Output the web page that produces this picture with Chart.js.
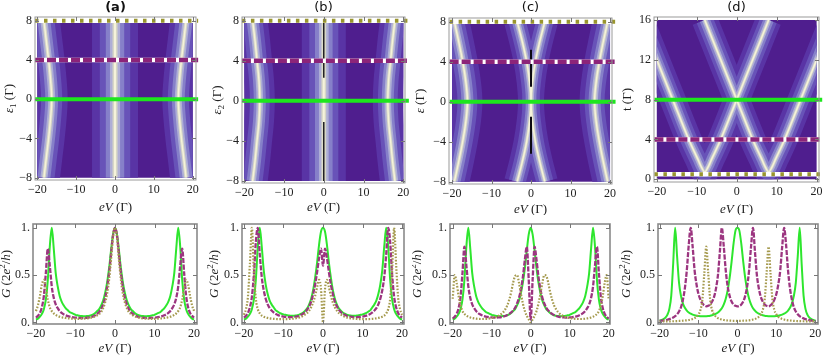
<!DOCTYPE html>
<html>
<head>
<meta charset="utf-8">
<script src="https://cdn.jsdelivr.net/npm/chart.js@4.4.0/dist/chart.umd.min.js"></script>
<style>
html, body { margin: 0; padding: 0; background: #fff; }
#fig { position: relative; width: 823px; height: 357px; overflow: hidden; }
#fig canvas { position: absolute; }
</style>
</head>
<body>
<div id="fig"></div>
<script>
// ---- bias grid shared by the conductance cuts (eV in units of Gamma)
const eV = [-20,-19.5,-19,-18.5,-18,-17.5,-17,-16.5,-16,-15.5,-15,-14.5,-14,-13.5,-13,-12.5,-12,-11.5,-11,-10.5,-10,-9.5,-9,-8.5,-8,-7.5,-7,-6.5,-6,-5.5,-5,-4.5,-4,-3.5,-3,-2.5,-2,-1.5,-1,-0.5,0,0.5,1,1.5,2,2.5,3,3.5,4,4.5,5,5.5,6,6.5,7,7.5,8,8.5,9,9.5,10,10.5,11,11.5,12,12.5,13,13.5,14,14.5,15,15.5,16,16.5,17,17.5,18,18.5,19,19.5,20];

// ---- conductance G (2e^2/h) read off the lower row
// (a) eps1 = 0 / 4 / 8
const aGreen  = [0.03,0.04,0.06,0.09,0.14,0.24,0.45,0.8,1.0,0.78,0.52,0.38,0.28,0.22,0.18,0.15,0.13,0.11,0.1,0.09,0.08,0.075,0.07,0.067,0.065,0.065,0.067,0.07,0.075,0.085,0.1,0.12,0.14,0.18,0.23,0.31,0.42,0.57,0.76,0.93,1.0,0.93,0.76,0.57,0.42,0.31,0.23,0.18,0.14,0.12,0.1,0.085,0.075,0.07,0.067,0.065,0.065,0.067,0.07,0.075,0.08,0.09,0.1,0.11,0.13,0.15,0.18,0.22,0.28,0.38,0.52,0.78,1.0,0.8,0.45,0.24,0.14,0.09,0.06,0.04,0.03];
const aPurple = [0.05,0.07,0.1,0.16,0.28,0.52,0.78,0.6,0.38,0.26,0.19,0.15,0.12,0.1,0.085,0.075,0.067,0.06,0.056,0.052,0.05,0.048,0.047,0.046,0.046,0.047,0.049,0.052,0.057,0.064,0.075,0.09,0.11,0.14,0.19,0.26,0.37,0.52,0.72,0.92,1.0,0.92,0.72,0.52,0.37,0.26,0.19,0.14,0.11,0.09,0.075,0.064,0.057,0.052,0.049,0.047,0.046,0.046,0.047,0.048,0.05,0.052,0.056,0.06,0.067,0.075,0.085,0.1,0.12,0.15,0.19,0.26,0.38,0.6,0.78,0.52,0.28,0.16,0.1,0.07,0.05];
const aOlive  = [0.12,0.18,0.28,0.4,0.45,0.36,0.24,0.16,0.12,0.095,0.08,0.068,0.06,0.054,0.05,0.046,0.043,0.041,0.04,0.039,0.038,0.038,0.038,0.039,0.04,0.041,0.043,0.046,0.05,0.056,0.064,0.075,0.09,0.11,0.15,0.21,0.3,0.45,0.66,0.9,1.0,0.9,0.66,0.45,0.3,0.21,0.15,0.11,0.09,0.075,0.064,0.056,0.05,0.046,0.043,0.041,0.04,0.039,0.038,0.038,0.038,0.039,0.04,0.041,0.043,0.046,0.05,0.054,0.06,0.068,0.08,0.095,0.12,0.16,0.24,0.36,0.45,0.4,0.28,0.18,0.12];
// (b) eps2 = 0 / 4 / 8
const bGreen  = [0.03,0.04,0.06,0.09,0.14,0.24,0.45,0.8,1.0,0.8,0.55,0.4,0.3,0.23,0.19,0.16,0.13,0.115,0.1,0.092,0.085,0.08,0.075,0.072,0.07,0.07,0.072,0.076,0.082,0.092,0.105,0.125,0.15,0.19,0.25,0.34,0.47,0.63,0.82,0.96,1.0,0.96,0.82,0.63,0.47,0.34,0.25,0.19,0.15,0.125,0.105,0.092,0.082,0.076,0.072,0.07,0.07,0.072,0.075,0.08,0.085,0.092,0.1,0.115,0.13,0.16,0.19,0.23,0.3,0.4,0.55,0.8,1.0,0.8,0.45,0.24,0.14,0.09,0.06,0.04,0.03];
const bPurple = [0.05,0.07,0.1,0.16,0.27,0.5,0.85,1.0,0.72,0.48,0.34,0.25,0.19,0.15,0.125,0.105,0.09,0.08,0.072,0.066,0.062,0.059,0.057,0.056,0.056,0.057,0.06,0.064,0.07,0.08,0.093,0.11,0.135,0.17,0.22,0.3,0.4,0.53,0.68,0.78,0.6,0.78,0.68,0.53,0.4,0.3,0.22,0.17,0.135,0.11,0.093,0.08,0.07,0.064,0.06,0.057,0.056,0.056,0.057,0.059,0.062,0.066,0.072,0.08,0.09,0.105,0.125,0.15,0.19,0.25,0.34,0.48,0.72,1.0,0.85,0.5,0.27,0.16,0.1,0.07,0.05];
const bOlive  = [0.08,0.14,0.27,0.62,1.0,0.55,0.25,0.14,0.095,0.072,0.06,0.052,0.047,0.043,0.04,0.038,0.036,0.035,0.034,0.034,0.034,0.034,0.035,0.036,0.038,0.04,0.043,0.047,0.052,0.06,0.07,0.085,0.1,0.125,0.16,0.21,0.28,0.37,0.45,0.35,0.0,0.35,0.45,0.37,0.28,0.21,0.16,0.125,0.1,0.085,0.07,0.06,0.052,0.047,0.043,0.04,0.038,0.036,0.035,0.034,0.034,0.034,0.034,0.035,0.036,0.038,0.04,0.043,0.047,0.052,0.06,0.072,0.095,0.14,0.25,0.55,1.0,0.62,0.27,0.14,0.08];
// (c) eps = 0 / 4 / 8
const cGreen  = [0.03,0.04,0.06,0.09,0.14,0.24,0.45,0.8,1.0,0.78,0.52,0.38,0.28,0.22,0.18,0.15,0.13,0.11,0.1,0.09,0.08,0.075,0.07,0.067,0.065,0.065,0.067,0.07,0.075,0.085,0.1,0.12,0.14,0.18,0.23,0.31,0.42,0.57,0.76,0.93,1.0,0.93,0.76,0.57,0.42,0.31,0.23,0.18,0.14,0.12,0.1,0.085,0.075,0.07,0.067,0.065,0.065,0.067,0.07,0.075,0.08,0.09,0.1,0.11,0.13,0.15,0.18,0.22,0.28,0.38,0.52,0.78,1.0,0.8,0.45,0.24,0.14,0.09,0.06,0.04,0.03];
const cPurple = [0.04,0.06,0.09,0.15,0.27,0.52,0.8,0.6,0.38,0.26,0.19,0.15,0.12,0.1,0.085,0.075,0.067,0.061,0.057,0.054,0.052,0.051,0.051,0.052,0.054,0.057,0.062,0.068,0.077,0.09,0.105,0.125,0.155,0.2,0.26,0.35,0.48,0.66,0.8,0.45,0.03,0.45,0.8,0.66,0.48,0.35,0.26,0.2,0.155,0.125,0.105,0.09,0.077,0.068,0.062,0.057,0.054,0.052,0.051,0.051,0.052,0.054,0.057,0.061,0.067,0.075,0.085,0.1,0.12,0.15,0.19,0.26,0.38,0.6,0.8,0.52,0.27,0.15,0.09,0.06,0.04];
const cOlive  = [0.25,0.5,0.42,0.28,0.18,0.12,0.09,0.072,0.06,0.052,0.046,0.042,0.039,0.037,0.036,0.036,0.036,0.037,0.039,0.042,0.046,0.05,0.056,0.064,0.075,0.09,0.11,0.14,0.18,0.24,0.32,0.42,0.49,0.5,0.42,0.3,0.2,0.12,0.07,0.03,0.0,0.03,0.07,0.12,0.2,0.3,0.42,0.5,0.49,0.42,0.32,0.24,0.18,0.14,0.11,0.09,0.075,0.064,0.056,0.05,0.046,0.042,0.039,0.037,0.036,0.036,0.036,0.037,0.039,0.042,0.046,0.052,0.06,0.072,0.09,0.12,0.18,0.28,0.42,0.5,0.25];
// (d) t = 8 / 4 / 0.5
const dGreen  = [0.02,0.025,0.035,0.05,0.08,0.14,0.28,0.62,1.0,0.7,0.42,0.28,0.2,0.155,0.125,0.105,0.092,0.082,0.075,0.07,0.067,0.065,0.064,0.064,0.065,0.067,0.07,0.075,0.082,0.092,0.105,0.125,0.15,0.19,0.25,0.34,0.47,0.64,0.83,0.97,1.0,0.97,0.83,0.64,0.47,0.34,0.25,0.19,0.15,0.125,0.105,0.092,0.082,0.075,0.07,0.067,0.065,0.064,0.064,0.065,0.067,0.07,0.075,0.082,0.092,0.105,0.125,0.155,0.2,0.28,0.42,0.7,1.0,0.62,0.28,0.14,0.08,0.05,0.035,0.025,0.02];
const dPurple = [0.015,0.018,0.02,0.024,0.028,0.034,0.042,0.052,0.066,0.085,0.115,0.16,0.24,0.36,0.55,0.82,1.0,0.8,0.55,0.4,0.3,0.24,0.2,0.18,0.17,0.175,0.19,0.22,0.27,0.36,0.5,0.75,1.0,0.8,0.55,0.38,0.28,0.22,0.19,0.175,0.17,0.175,0.19,0.22,0.28,0.38,0.55,0.8,1.0,0.75,0.5,0.36,0.27,0.22,0.19,0.175,0.17,0.18,0.2,0.24,0.3,0.4,0.55,0.8,1.0,0.82,0.55,0.36,0.24,0.16,0.115,0.085,0.066,0.052,0.042,0.034,0.028,0.024,0.02,0.018,0.015];
const dOlive  = [0.01,0.01,0.01,0.01,0.011,0.011,0.012,0.012,0.013,0.014,0.015,0.016,0.018,0.02,0.022,0.025,0.03,0.036,0.045,0.06,0.085,0.13,0.24,0.52,0.8,0.52,0.24,0.13,0.085,0.06,0.045,0.036,0.03,0.025,0.022,0.02,0.019,0.018,0.017,0.017,0.017,0.017,0.017,0.018,0.019,0.02,0.022,0.025,0.03,0.036,0.045,0.06,0.085,0.13,0.24,0.52,0.8,0.52,0.24,0.13,0.085,0.06,0.045,0.036,0.03,0.025,0.022,0.02,0.018,0.016,0.015,0.014,0.013,0.012,0.012,0.011,0.011,0.01,0.01,0.01,0.01];

// ---- bright ridges of the density maps (upper row)
const levelRows = [-8, -6, -4, -2, 0, 2, 4, 6, 8];
const aRidgeL = [-18.3, -17.7, -17.1, -16.6, -16.3, -16.6, -17.1, -17.7, -18.3];
const aRidgeC = [0, 0, 0, 0, 0, 0, 0, 0, 0];
const aRidgeR = [18.3, 17.7, 17.1, 16.6, 16.3, 16.6, 17.1, 17.7, 18.3];
const bRidgeL = [-17.9, -17.3, -16.8, -16.3, -16.1, -16.3, -16.8, -17.3, -17.9];
const bRidgeC = [0, 0, 0, 0, 0, 0, 0, 0, 0];
const bRidgeR = [17.9, 17.3, 16.8, 16.3, 16.1, 16.3, 16.8, 17.3, 17.9];
const cRidgeL = [-19.4, -18.3, -17.3, -16.5, -16.1, -16.5, -17.3, -18.3, -19.4];
const cSplitL = [-3.5, -2.2, -1.1, -0.35, 0, -0.35, -1.1, -2.2, -3.5];
const cSplitR = [3.5, 2.2, 1.1, 0.35, 0, 0.35, 1.1, 2.2, 3.5];
const cRidgeR = [19.4, 18.3, 17.3, 16.5, 16.1, 16.5, 17.3, 18.3, 19.4];
const hopRows = [16, 12, 8, 4, 2, 1.2, 0.75, 1.2, 2, 4, 8, 12, 16];
const dVeeL = [-24, -20, -16, -12, -9.7, -8.8, -8, -7.2, -6.3, -4, 0, 4, 8];
const dVeeR = [-8, -4, 0, 4, 6.3, 7.2, 8, 8.8, 9.7, 12, 16, 20, 24];
// zero-conductance seams at eV = 0
const dipX = [0, 0];
const bDipUp = [2.3, 8], bDipDown = [-8, -2.1];
const cDipUp = [1.5, 5.2], cDipDown = [-5.2, -1.5];

// ---- cut levels [green, purple, olive] and map extents
const cutsLevel = [0, 4, 8];
const cutsHop = [8, 4, 0.5];
const cutSpan = [-20.6, 21.4];
const fieldBias = [-20, 20], fieldLevel = [-8, 8], fieldHop = [0, 16];

// ---- ticks
const biasTicks = [-20, -10, 0, 10, 20];
const biasLabels = ['\u221220', '\u221210', '0', '10', '20'];
const levelTicks = [-8, -4, 0, 4, 8];
const levelLabels = ['\u22128', '\u22124', '0', '4', '8'];
const hopTicks = [0, 4, 8, 12, 16];
const hopLabels = ['0', '4', '8', '12', '16'];
const condTicks = [0, 0.5, 1];
const condLabels = ['0.', '0.5', '1.'];

const serif = '"Liberation Serif", "Times New Roman", serif';
const sans = '"DejaVu Sans", sans-serif';
const fieldColor = '#4f1e8e';
const glowBands = [
    { color: '#5934a5', k: 1.0 },
    { color: '#6853b8', k: 0.66 },
    { color: '#8680c9', k: 0.4 },
    { color: '#aeaed6', k: 0.22 },
    { color: '#d6d6c6', k: 0.11 },
    { color: '#f5f3da', k: 0.045 }
];

const fig = document.getElementById('fig');

function pts(xs, ys) {
    return xs.map((x, i) => ({ x: x, y: ys[i] }));
}

function glowLayers(ridges) {
    const out = [];
    glowBands.forEach(band => {
        ridges.forEach(r => {
            out.push({
                data: pts(r.x, r.y), showLine: true, pointRadius: 0, tension: 0.4,
                borderColor: band.color, borderWidth: Math.max(1.4, r.spread * band.k), glow: true
            });
        });
    });
    return out;
}

function dipLayers(dips, w) {
    return dips.map(d => ({
        data: pts(dipX, d), showLine: true, pointRadius: 0,
        borderColor: '#0c0a10', borderWidth: w, glow: true
    }));
}

function cutLayers(levels) {
    const line = (y, color, w, dash) => ({
        data: pts(cutSpan, [y, y]), showLine: true, pointRadius: 0,
        borderColor: color, borderWidth: w, borderDash: dash || [], clip: false
    });
    return [
        line(levels[0], '#1de61d', 4),
        line(levels[1], '#ffffff', 4.5), line(levels[1], '#8c2479', 4.5, [9, 3]),
        line(levels[2], '#ffffff', 4.5), line(levels[2], '#99952e', 4, [3.5, 5.5])
    ];
}

function curveLayers(g, p, o) {
    const base = { showLine: true, pointRadius: 0, cubicInterpolationMode: 'monotone' };
    return [
        Object.assign({}, base, { data: pts(eV, g), borderColor: '#2ee62e', borderWidth: 2 }),
        Object.assign({}, base, { data: pts(eV, p), borderColor: '#9c3580', borderWidth: 2.3, borderDash: [5, 1.5] }),
        Object.assign({}, base, { data: pts(eV, o), borderColor: '#a59a4e', borderWidth: 2.2, borderDash: [1.6, 1.6] })
    ];
}

function drawRich(ctx, segs, x, y, size, vertical) {
    const fontOf = s => (s.it ? 'italic ' : '') + ((s.sub || s.sup) ? Math.round(size * 0.72) : size) + 'px ' + serif;
    let total = 0;
    segs.forEach(s => { ctx.font = fontOf(s); total += ctx.measureText(s.t).width; });
    ctx.save();
    ctx.translate(x, y);
    if (vertical) ctx.rotate(-Math.PI / 2);
    ctx.textBaseline = 'middle';
    ctx.textAlign = 'left';
    ctx.fillStyle = '#222';
    let cx = -total / 2;
    segs.forEach(s => {
        ctx.font = fontOf(s);
        const dy = s.sub ? size * 0.3 : (s.sup ? -size * 0.35 : 0);
        ctx.fillText(s.t, cx, dy);
        cx += ctx.measureText(s.t).width;
    });
    ctx.restore();
}

function deco(cfg) {
    const fieldRect = chart => {
        const sx = chart.scales.x, sy = chart.scales.y;
        const l = sx.getPixelForValue(cfg.field.x[0]), r = sx.getPixelForValue(cfg.field.x[1]);
        const t = sy.getPixelForValue(cfg.field.y[1]), b = sy.getPixelForValue(cfg.field.y[0]);
        return [l, t, r - l, b - t];
    };
    return {
        id: 'deco',
        beforeDatasetsDraw(chart) {
            if (!cfg.field) return;
            const ctx = chart.ctx;
            ctx.save();
            ctx.fillStyle = fieldColor;
            ctx.fillRect(...fieldRect(chart));
            ctx.restore();
        },
        beforeDatasetDraw(chart, args) {
            if (!chart.data.datasets[args.index].glow) return;
            const ctx = chart.ctx;
            ctx.save();
            ctx.beginPath();
            ctx.rect(...fieldRect(chart));
            ctx.clip();
        },
        afterDatasetDraw(chart, args) {
            if (chart.data.datasets[args.index].glow) chart.ctx.restore();
        },
        afterDraw(chart) {
            const ctx = chart.ctx, a = chart.chartArea;
            const sx = chart.scales.x, sy = chart.scales.y;
            ctx.save();
            ctx.strokeStyle = cfg.frameColor;
            ctx.lineWidth = cfg.frameWidth;
            ctx.strokeRect(a.left, a.top, a.right - a.left, a.bottom - a.top);
            ctx.lineWidth = 1;
            ctx.strokeStyle = '#777';
            ctx.beginPath();
            cfg.xTicks.forEach(v => {
                const px = Math.round(sx.getPixelForValue(v)) + 0.5;
                ctx.moveTo(px, a.bottom); ctx.lineTo(px, a.bottom - 4);
                ctx.moveTo(px, a.top); ctx.lineTo(px, a.top + 4);
            });
            cfg.yTicks.forEach(v => {
                const py = Math.round(sy.getPixelForValue(v)) + 0.5;
                ctx.moveTo(a.left, py); ctx.lineTo(a.left + 4, py);
                ctx.moveTo(a.right, py); ctx.lineTo(a.right - 4, py);
            });
            ctx.stroke();
            const cx = (a.left + a.right) / 2;
            if (cfg.label) {
                ctx.font = (cfg.labelBold ? 'bold ' : '') + '13px ' + sans;
                ctx.textAlign = 'center';
                ctx.textBaseline = 'middle';
                ctx.fillStyle = '#111';
                ctx.fillText(cfg.label, cx, 8);
            }
            drawRich(ctx, cfg.xTitle, cx, cfg.xTitleY, 13, false);
            drawRich(ctx, cfg.yTitle, cfg.yTitleX, (a.top + a.bottom) / 2, 13, true);
            ctx.restore();
        }
    };
}

function panel(cfg) {
    const box = cfg.box, fr = cfg.frame;
    const cv = document.createElement('canvas');
    cv.width = box.w;
    cv.height = box.h;
    cv.style.left = box.x + 'px';
    cv.style.top = box.y + 'px';
    fig.appendChild(cv);
    const tickFont = { family: serif, size: 12 };
    const noPad = s => { s.paddingLeft = 0; s.paddingRight = 0; s.paddingTop = 0; s.paddingBottom = 0; };
    new Chart(cv, {
        type: 'scatter',
        data: { datasets: cfg.layers.slice().reverse() },
        options: {
            responsive: false,
            animation: false,
            events: [],
            layout: { padding: { left: 0, top: fr.t - box.y, right: box.x + box.w - fr.r, bottom: 0 } },
            plugins: { legend: { display: false }, tooltip: { enabled: false } },
            scales: {
                x: {
                    type: 'linear', min: cfg.xRange[0], max: cfg.xRange[1],
                    grid: { display: false, drawTicks: false }, border: { display: false },
                    afterBuildTicks: s => { s.ticks = cfg.xTicks.map(v => ({ value: v })); },
                    afterFit: s => { s.height = box.y + box.h - fr.b; noPad(s); },
                    ticks: {
                        autoSkip: false, maxRotation: 0, padding: cfg.xPad, color: '#222', font: tickFont,
                        callback: v => cfg.xLabels[cfg.xTicks.indexOf(v)]
                    }
                },
                y: {
                    type: 'linear', min: cfg.yRange[0], max: cfg.yRange[1],
                    grid: { display: false, drawTicks: false }, border: { display: false },
                    afterBuildTicks: s => { s.ticks = cfg.yTicks.map(v => ({ value: v })); },
                    afterFit: s => { s.width = fr.l - box.x; noPad(s); },
                    ticks: {
                        autoSkip: false, padding: 3, color: '#222', font: tickFont,
                        callback: v => cfg.yLabels[cfg.yTicks.indexOf(v)]
                    }
                }
            }
        },
        plugins: [deco(cfg)]
    });
}

const xTitle = [{ t: 'eV', it: true }, { t: ' (\u0393)' }];
const gTitle = [{ t: 'G', it: true }, { t: ' (2' }, { t: 'e', it: true }, { t: '2', sup: true }, { t: '/' }, { t: 'h', it: true }, { t: ')' }];
const topCommon = { xTicks: biasTicks, xLabels: biasLabels, xPad: 3, frameColor: '#9a9a9a', frameWidth: 1 };
const lowCommon = {
    xTicks: biasTicks, xLabels: biasLabels, xPad: 3, yTicks: condTicks, yLabels: condLabels,
    yRange: [-0.017, 1.04], frameColor: '#8a8a8a', frameWidth: 1.6, xTitle: xTitle, yTitle: gTitle, xTitleY: 137
};

// ---- upper row: density maps
panel(Object.assign({}, topCommon, {
    box: { x: 0, y: 0, w: 205, h: 215 }, frame: { l: 35, t: 17, r: 196, b: 180 },
    xRange: [-20.6, 20.85], yRange: [-8.23, 8.38], yTicks: levelTicks, yLabels: levelLabels,
    field: { x: fieldBias, y: fieldLevel }, label: '(a)', labelBold: true,
    xTitle: xTitle, xTitleY: 208, yTitleX: 10,
    yTitle: [{ t: '\u03b5', it: true }, { t: '1', sub: true }, { t: ' (\u0393)' }],
    layers: glowLayers([
        { x: aRidgeL, y: levelRows, spread: 32 },
        { x: aRidgeC, y: levelRows, spread: 46 },
        { x: aRidgeR, y: levelRows, spread: 32 }
    ]).concat(cutLayers(cutsLevel))
}));
panel(Object.assign({}, topCommon, {
    box: { x: 205, y: 0, w: 207, h: 215 }, frame: { l: 242, t: 17, r: 405, b: 183 },
    xRange: [-20.58, 20.43], yRange: [-8.2, 8.37], yTicks: levelTicks, yLabels: levelLabels,
    field: { x: fieldBias, y: fieldLevel }, label: '(b)',
    xTitle: xTitle, xTitleY: 208, yTitleX: 13,
    yTitle: [{ t: '\u03b5', it: true }, { t: '2', sub: true }, { t: ' (\u0393)' }],
    layers: glowLayers([
        { x: bRidgeL, y: levelRows, spread: 30 },
        { x: bRidgeC, y: levelRows, spread: 44 },
        { x: bRidgeR, y: levelRows, spread: 30 }
    ]).concat(dipLayers([bDipUp, bDipDown], 1.4)).concat(cutLayers(cutsLevel))
}));
panel(Object.assign({}, topCommon, {
    box: { x: 412, y: 0, w: 206, h: 215 }, frame: { l: 449, t: 18, r: 612, b: 184 },
    xRange: [-20.76, 20.5], yRange: [-8.23, 8.37], yTicks: levelTicks, yLabels: levelLabels,
    field: { x: fieldBias, y: fieldLevel }, label: '(c)',
    xTitle: xTitle, xTitleY: 210, yTitleX: 9,
    yTitle: [{ t: '\u03b5', it: true }, { t: ' (\u0393)' }],
    layers: glowLayers([
        { x: cRidgeL, y: levelRows, spread: 30 },
        { x: cSplitL, y: levelRows, spread: 26 },
        { x: cSplitR, y: levelRows, spread: 26 },
        { x: cRidgeR, y: levelRows, spread: 30 }
    ]).concat(dipLayers([cDipUp, cDipDown], 2)).concat(cutLayers(cutsLevel))
}));
panel(Object.assign({}, topCommon, {
    box: { x: 618, y: 0, w: 205, h: 215 }, frame: { l: 654, t: 17, r: 819, b: 182 },
    xRange: [-20.7, 20.6], yRange: [-0.27, 16.3], yTicks: hopTicks, yLabels: hopLabels,
    field: { x: fieldBias, y: fieldHop }, label: '(d)',
    xTitle: xTitle, xTitleY: 210, yTitleX: 10,
    yTitle: [{ t: 't' }, { t: ' (\u0393)' }],
    layers: glowLayers([
        { x: dVeeL, y: hopRows, spread: 26 },
        { x: dVeeR, y: hopRows, spread: 26 }
    ]).concat(cutLayers(cutsHop))
}));

// ---- lower row: conductance cuts
panel(Object.assign({}, lowCommon, {
    box: { x: 0, y: 212, w: 205, h: 145 }, frame: { l: 33, t: 224, r: 197, b: 324 },
    xRange: [-20.75, 20.75], yTitleX: 7, layers: curveLayers(aGreen, aPurple, aOlive)
}));
panel(Object.assign({}, lowCommon, {
    box: { x: 205, y: 212, w: 207, h: 145 }, frame: { l: 242, t: 224, r: 404, b: 324 },
    xRange: [-20.5, 20.5], yTitleX: 10, layers: curveLayers(bGreen, bPurple, bOlive)
}));
panel(Object.assign({}, lowCommon, {
    box: { x: 412, y: 212, w: 206, h: 145 }, frame: { l: 450, t: 224, r: 610, b: 324 },
    xRange: [-20.7, 20.35], yTitleX: 6, layers: curveLayers(cGreen, cPurple, cOlive)
}));
panel(Object.assign({}, lowCommon, {
    box: { x: 618, y: 212, w: 205, h: 145 }, frame: { l: 658, t: 224, r: 818, b: 324 },
    xRange: [-20.4, 20.7], yTitleX: 9, layers: curveLayers(dGreen, dPurple, dOlive)
}));
</script>
</body>
</html>
